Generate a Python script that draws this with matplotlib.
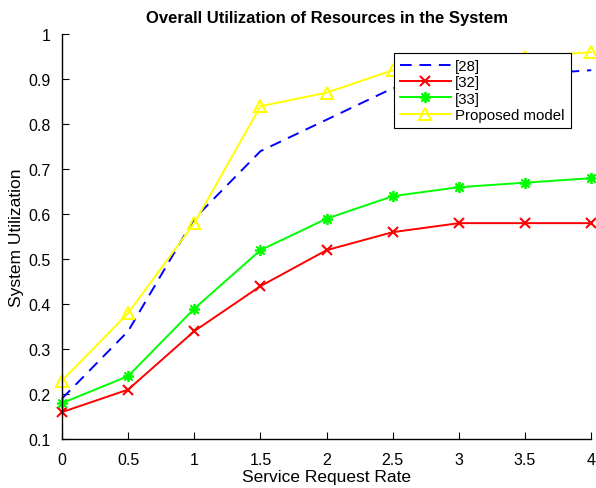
import numpy as np
import matplotlib.pyplot as plt

plt.rcParams['font.family'] = ['Liberation Sans', 'DejaVu Sans']

rate = [0, 0.5, 1, 1.5, 2, 2.5, 3, 3.5, 4]
ref28 = [0.19, 0.34, 0.59, 0.74, 0.81, 0.88, 0.90, 0.91, 0.92]
ref32 = [0.16, 0.21, 0.34, 0.44, 0.52, 0.56, 0.58, 0.58, 0.58]
ref33 = [0.18, 0.24, 0.39, 0.52, 0.59, 0.64, 0.66, 0.67, 0.68]
proposed = [0.23, 0.38, 0.58, 0.84, 0.87, 0.92, 0.94, 0.95, 0.96]

fig = plt.figure(figsize=(5.96, 4.89), dpi=100)
ax = fig.add_axes([0.104, 0.100, 0.888, 0.828])

ax.plot(rate, ref28, color='#0000ff', linestyle=(0, (6, 4)), linewidth=1.4, label='[28]')
ax.plot(rate, ref32, color='#ff0000', marker='x', markersize=7, markeredgewidth=1.5,
        linewidth=1.4, label='[32]')
ax.plot(rate, ref33, color='#00ff00', marker=(8, 2, 0), markersize=8, markeredgewidth=1.3,
        linewidth=1.4, label='[33]')
ax.plot(rate, proposed, color='#ffff00', marker='^', markersize=8, markerfacecolor='none',
        markeredgewidth=1.5, linewidth=1.4, label='Proposed model')

ax.set_xlim(0, 4)
ax.set_ylim(0.1, 1)
ax.set_xticks(rate)
ax.set_xticklabels(['0', '0.5', '1', '1.5', '2', '2.5', '3', '3.5', '4'])
ax.set_yticks(np.arange(0.1, 1.01, 0.1))
ax.set_yticklabels(['0.1', '0.2', '0.3', '0.4', '0.5', '0.6', '0.7', '0.8', '0.9', '1'])
ax.tick_params(direction='in', labelsize=11.5, length=5)
ax.tick_params(axis='x', pad=9)
ax.tick_params(axis='y', pad=8)
ax.spines['top'].set_visible(False)
ax.spines['right'].set_visible(False)
for s in ['left', 'bottom']:
    ax.spines[s].set_linewidth(1.0)

ax.set_xlabel('Service Request Rate', fontsize=12.5, labelpad=2)
ax.set_ylabel('System Utilization', fontsize=12.5, labelpad=3)
ax.set_title('Overall Utilization of Resources in the System', fontsize=12,
             fontweight='bold', pad=9)

leg = ax.legend(loc='upper right', bbox_to_anchor=(0.975, 0.972), fontsize=10.8,
                fancybox=False, framealpha=1, edgecolor='black', borderpad=0.4,
                labelspacing=0.15, handlelength=3.4, handletextpad=0.3)
leg.get_frame().set_linewidth(0.8)

for line in ax.get_lines():
    line.set_clip_on(False)

fig.savefig('out.png', dpi=100)
